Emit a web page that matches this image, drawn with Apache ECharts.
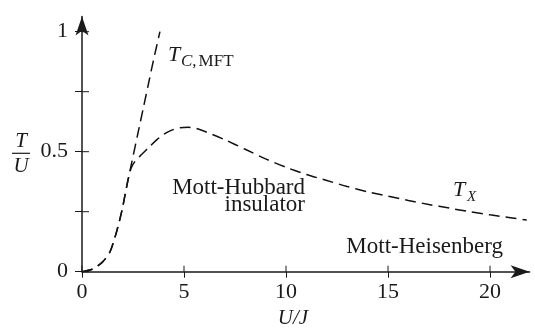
<!DOCTYPE html>
<html><head><meta charset="utf-8">
<script src="https://cdn.jsdelivr.net/npm/echarts@6/dist/echarts.min.js"></script>
<style>html,body{margin:0;padding:0;background:#fff}#c{width:535px;height:330px}</style>
</head><body><div id="c"></div>
<script>
// Tick values
const xTicks = [0, 5, 10, 15, 20];
const yTicks = [0, 0.25, 0.5, 0.75, 1];
const yLabels = [0, 0.5, 1];
// T_X crossover curve
const txX = [0, 0.5, 1.0, 1.37, 1.72, 1.96, 2.11, 2.25, 2.4, 2.6, 2.92, 3.3, 3.66, 4.0, 4.4, 4.8, 5.2, 5.6, 6.0, 7.0, 8.0, 9.0, 10.0, 11.0, 12.0, 13.0, 14.0, 15.0, 16.0, 17.0, 18.0, 19.0, 20.0, 21.0, 21.8];
const txY = [0, 0.01, 0.04, 0.082, 0.174, 0.256, 0.32, 0.38, 0.43, 0.46, 0.488, 0.52, 0.549, 0.572, 0.59, 0.6, 0.602, 0.597, 0.585, 0.55, 0.51, 0.47, 0.435, 0.405, 0.38, 0.355, 0.333, 0.315, 0.297, 0.28, 0.265, 0.25, 0.237, 0.225, 0.215];
// T_C,MFT mean-field curve
const mftX = [0, 0.5, 1.0, 1.37, 1.72, 1.96, 2.11, 2.25, 2.4, 2.75, 3.0, 3.25, 3.5, 3.82];
const mftY = [0, 0.01, 0.04, 0.082, 0.174, 0.256, 0.32, 0.38, 0.44, 0.58, 0.68, 0.78, 0.88, 1.0];

const serif = 'Liberation Serif';
const ink = '#1a1a1a';
const pairs = (xs, ys) => xs.map((x, i) => [x, ys[i]]);

const chart = echarts.init(document.getElementById('c'), null, {renderer: 'canvas'});
const lineStyle = {type: [11, 6], width: 1.5, color: '#111'};
const txt = (x, y, text, opts) => Object.assign({
  type: 'text', x: x, y: y,
  style: Object.assign({text: text, fill: ink, font: '23px "' + serif + '"', align: 'left', verticalAlign: 'middle'}, opts || {})
});
chart.setOption({
  animation: false,
  backgroundColor: '#fff',
  grid: {left: 82, right: 5.4, top: 16.5, bottom: 58.3},
  xAxis: {
    type: 'value', min: 0, max: 21.94,
    splitLine: {show: false},
    axisLine: {onZero: false, lineStyle: {color: ink, width: 1.5}, symbol: ['none', 'arrow'], symbolSize: [9.75, 19]},
    axisTick: {show: true, length: 6, lineStyle: {color: ink, width: 1}, customValues: xTicks},
    axisLabel: {customValues: xTicks, fontFamily: serif, fontSize: 22, color: ink, margin: 10}
  },
  yAxis: {
    type: 'value', min: 0, max: 1.0633,
    splitLine: {show: false},
    axisLine: {onZero: false, lineStyle: {color: ink, width: 1.5}, symbol: ['none', 'arrow'], symbolSize: [9.75, 19]},
    axisTick: {show: true, length: 7, lineStyle: {color: ink, width: 1}, customValues: yTicks},
    axisLabel: {customValues: yLabels, fontFamily: serif, fontSize: 22, color: ink, margin: 14,
      formatter: v => String(v)}
  },
  series: [
    {type: 'line', data: pairs(txX, txY), showSymbol: false, smooth: 0.25, lineStyle: lineStyle, z: 3},
    {type: 'line', data: pairs(mftX, mftY), showSymbol: false, smooth: 0.25, lineStyle: lineStyle, z: 3},
    {type: 'custom', data: xTicks.map(v => [v, 0]), clip: false, silent: true, z: 4,
      renderItem: (p, api) => { const c = api.coord([api.value(0), 0]);
        return {type: 'line', shape: {x1: c[0], y1: c[1], x2: c[0], y2: c[1] - 6}, style: {stroke: ink, lineWidth: 1}}; }},
    {type: 'custom', data: yTicks.map(v => [0, v]), clip: false, silent: true, z: 4,
      renderItem: (p, api) => { const c = api.coord([0, api.value(1)]);
        return {type: 'line', shape: {x1: c[0], y1: c[1], x2: c[0] + 7, y2: c[1]}, style: {stroke: ink, lineWidth: 1}}; }}
  ],
  graphic: [
    txt(21, 141.5, 'T', {font: 'italic 21px "' + serif + '"', align: 'center'}),
    {type: 'line', shape: {x1: 12, y1: 153.3, x2: 30, y2: 153.3}, style: {stroke: ink, lineWidth: 1.2}},
    txt(21, 166.5, 'U', {font: 'italic 21px "' + serif + '"', align: 'center'}),
    txt(168, 55.5, 'T', {font: 'italic 22px "' + serif + '"'}),
    {type: 'text', x: 181, y: 62, style: {text: '{i|C}{r|,}{m|MFT}', verticalAlign: 'middle', align: 'left',
      rich: {i: {fontFamily: serif, fontStyle: 'italic', fontSize: 17, fill: ink, color: ink},
             r: {fontFamily: serif, fontSize: 17, fill: ink, color: ink},
             m: {fontFamily: serif, fontSize: 17, fill: ink, color: ink, padding: [0, 0, 0, 2]}}}},
    txt(453, 190, 'T', {font: 'italic 22px "' + serif + '"'}),
    txt(467, 197, 'X', {font: 'italic 15px "' + serif + '"'}),
    txt(305, 188, 'Mott-Hubbard', {align: 'right'}),
    txt(305, 204.5, 'insulator', {align: 'right'}),
    txt(503, 247, 'Mott-Heisenberg', {align: 'right'}),
    txt(293, 318, 'U/J', {font: 'italic 21px "' + serif + '"', align: 'center'})
  ]
});
</script></body></html>
